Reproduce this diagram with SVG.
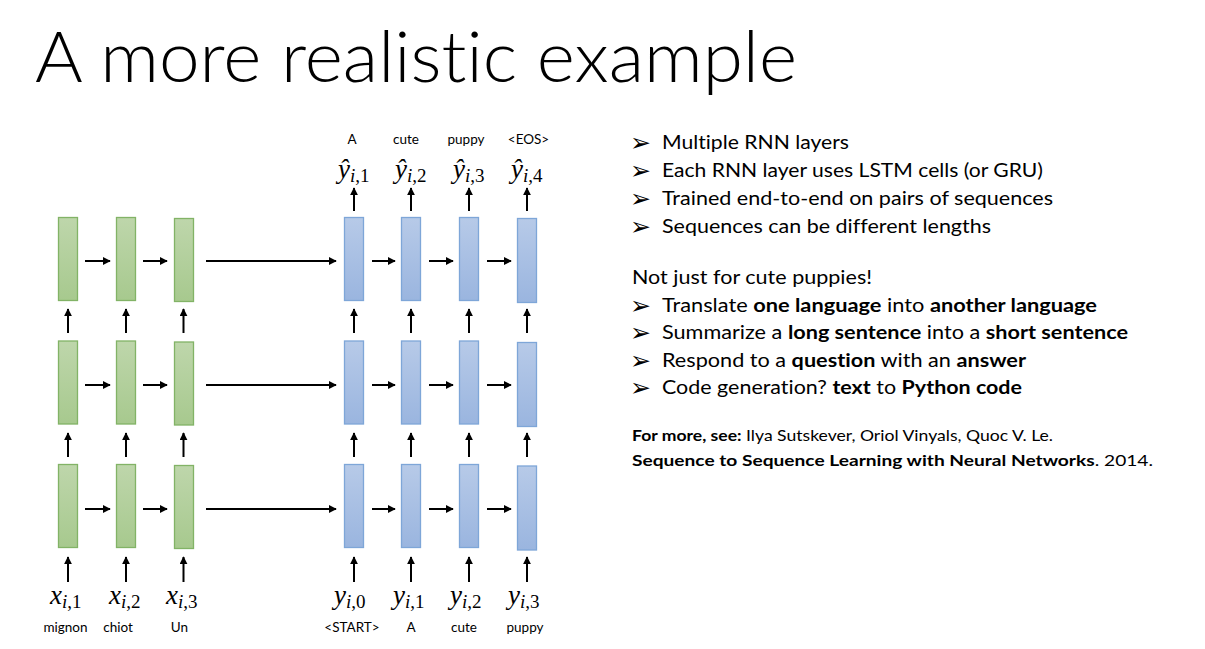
<svg xmlns="http://www.w3.org/2000/svg" width="1205" height="649" viewBox="0 0 1205 649">
<style>
text{font-variant-ligatures:none}
.g{fill:url(#gg);stroke:#82b366;stroke-width:1.3}
.b{fill:url(#bg);stroke:#7ea6d8;stroke-width:1.3}
#connectors line{stroke:#000;stroke-width:2;marker-end:url(#ah)}
.lbl{font-family:Lato,"Open Sans",sans-serif;font-size:13.5px;fill:#000;text-anchor:middle}
.m{font-family:"Liberation Serif","Times New Roman",serif;font-style:italic;font-size:27px;fill:#000}
.s{font-size:19px}
.r{font-style:normal}
.t{font-family:Lato,"Open Sans",sans-serif;font-size:18.5px;fill:#000}
.bu{font-family:"DejaVu Sans",sans-serif;font-size:25px;fill:#000}
.f{font-family:Lato,"Open Sans",sans-serif;font-size:16px;fill:#000}
.bd{font-weight:bold}
</style>
<defs>
<linearGradient id="gg" x1="0" y1="0" x2="0" y2="1"><stop offset="0" stop-color="#bed6ab"/><stop offset="1" stop-color="#a7c98e"/></linearGradient>
<linearGradient id="bg" x1="0" y1="0" x2="0" y2="1"><stop offset="0" stop-color="#b7cae8"/><stop offset="1" stop-color="#9ab5df"/></linearGradient>
<marker id="ah" viewBox="0 0 10 10" refX="9" refY="5" markerWidth="4" markerHeight="4" orient="auto" markerUnits="strokeWidth"><path d="M0,0 L10,5 L0,10 z" fill="#000"/></marker>
</defs>
<rect width="1205" height="649" fill="#fff"/>
<text x="35" y="82" font-family="Lato,'Open Sans',sans-serif" font-weight="300" font-size="70" textLength="762" lengthAdjust="spacingAndGlyphs">A more realistic example</text>

<g id="encoder">
<g id="e11"><rect class="g" x="58.5" y="217.5" width="19" height="83"/></g>
<g id="e12"><rect class="g" x="116.5" y="217.5" width="19" height="83"/></g>
<g id="e13"><rect class="g" x="174.5" y="218.5" width="19" height="83"/></g>
<g id="e21"><rect class="g" x="58.5" y="341" width="19" height="83"/></g>
<g id="e22"><rect class="g" x="116.5" y="341" width="19" height="83"/></g>
<g id="e23"><rect class="g" x="174.5" y="342" width="19" height="83"/></g>
<g id="e31"><rect class="g" x="58.5" y="464.5" width="19" height="83"/></g>
<g id="e32"><rect class="g" x="116.5" y="464.5" width="19" height="83"/></g>
<g id="e33"><rect class="g" x="174.5" y="465.5" width="19" height="83"/></g>
</g>
<g id="decoder">
<g id="d11"><rect class="b" x="344.5" y="217.5" width="19" height="83"/></g>
<g id="d12"><rect class="b" x="401.5" y="217.5" width="19" height="83"/></g>
<g id="d13"><rect class="b" x="459.5" y="217.5" width="19" height="83"/></g>
<g id="d14"><rect class="b" x="517.5" y="218.5" width="19" height="84"/></g>
<g id="d21"><rect class="b" x="344.5" y="341" width="19" height="83"/></g>
<g id="d22"><rect class="b" x="401.5" y="341" width="19" height="83"/></g>
<g id="d23"><rect class="b" x="459.5" y="341" width="19" height="83"/></g>
<g id="d24"><rect class="b" x="517.5" y="342.5" width="19" height="84"/></g>
<g id="d31"><rect class="b" x="344.5" y="464.5" width="19" height="83"/></g>
<g id="d32"><rect class="b" x="401.5" y="464.5" width="19" height="83"/></g>
<g id="d33"><rect class="b" x="459.5" y="464.5" width="19" height="83"/></g>
<g id="d34"><rect class="b" x="517.5" y="466" width="19" height="84"/></g>
</g>

<g id="connectors">
<line x1="85" y1="261" x2="110" y2="261"/><line x1="143" y1="261" x2="167" y2="261"/><line x1="206" y1="261" x2="336" y2="261"/><line x1="372" y1="261" x2="395" y2="261"/><line x1="429" y1="261" x2="453" y2="261"/><line x1="487" y1="261" x2="511" y2="261"/>
<line x1="85" y1="385" x2="110" y2="385"/><line x1="143" y1="385" x2="167" y2="385"/><line x1="206" y1="385" x2="336" y2="385"/><line x1="372" y1="385" x2="395" y2="385"/><line x1="429" y1="385" x2="453" y2="385"/><line x1="487" y1="385" x2="511" y2="385"/>
<line x1="85" y1="509" x2="110" y2="509"/><line x1="143" y1="509" x2="167" y2="509"/><line x1="206" y1="509" x2="336" y2="509"/><line x1="372" y1="509" x2="395" y2="509"/><line x1="429" y1="509" x2="453" y2="509"/><line x1="487" y1="509" x2="511" y2="509"/>
<line x1="68" y1="333" x2="68" y2="309"/><line x1="126" y1="333" x2="126" y2="309"/><line x1="183.5" y1="333" x2="183.5" y2="309"/><line x1="354" y1="333" x2="354" y2="309"/><line x1="411" y1="333" x2="411" y2="309"/><line x1="469" y1="333" x2="469" y2="309"/><line x1="527" y1="333" x2="527" y2="309"/>
<line x1="68" y1="457" x2="68" y2="433"/><line x1="126" y1="457" x2="126" y2="433"/><line x1="183.5" y1="457" x2="183.5" y2="433"/><line x1="354" y1="457" x2="354" y2="433"/><line x1="411" y1="457" x2="411" y2="433"/><line x1="469" y1="457" x2="469" y2="433"/><line x1="527" y1="457" x2="527" y2="433"/>
<line x1="68" y1="582" x2="68" y2="557"/><line x1="126" y1="582" x2="126" y2="557"/><line x1="183.5" y1="582" x2="183.5" y2="557"/><line x1="354" y1="582" x2="354" y2="557"/><line x1="411" y1="582" x2="411" y2="557"/><line x1="469" y1="582" x2="469" y2="557"/><line x1="527" y1="582" x2="527" y2="557"/>
<line x1="354" y1="211" x2="354" y2="188"/><line x1="411" y1="211" x2="411" y2="188"/><line x1="469" y1="211" x2="469" y2="188"/><line x1="527" y1="211" x2="527" y2="188"/>
</g>

<g id="labels">
<text class="lbl" x="352" y="143.5">A</text>
<text class="lbl" x="406" y="143.5">cute</text>
<text class="lbl" x="466" y="143.5">puppy</text>
<text class="lbl" x="528.5" y="143.5">&lt;EOS&gt;</text>
<text class="m" x="338" y="178">ŷ<tspan class="s" dy="4">i<tspan class="r">,1</tspan></tspan></text>
<text class="m" x="395" y="178">ŷ<tspan class="s" dy="4">i<tspan class="r">,2</tspan></tspan></text>
<text class="m" x="453" y="178">ŷ<tspan class="s" dy="4">i<tspan class="r">,3</tspan></tspan></text>
<text class="m" x="511" y="178">ŷ<tspan class="s" dy="4">i<tspan class="r">,4</tspan></tspan></text>
<text class="m" x="50" y="604">x<tspan class="s" dy="4">i<tspan class="r">,1</tspan></tspan></text>
<text class="m" x="109" y="604">x<tspan class="s" dy="4">i<tspan class="r">,2</tspan></tspan></text>
<text class="m" x="166" y="604">x<tspan class="s" dy="4">i<tspan class="r">,3</tspan></tspan></text>
<text class="m" x="334" y="604">y<tspan class="s" dy="4">i<tspan class="r">,0</tspan></tspan></text>
<text class="m" x="393" y="604">y<tspan class="s" dy="4">i<tspan class="r">,1</tspan></tspan></text>
<text class="m" x="450" y="604">y<tspan class="s" dy="4">i<tspan class="r">,2</tspan></tspan></text>
<text class="m" x="508" y="604">y<tspan class="s" dy="4">i<tspan class="r">,3</tspan></tspan></text>
<text class="lbl" x="65.5" y="631.5">mignon</text>
<text class="lbl" x="118" y="631.5">chiot</text>
<text class="lbl" x="179.5" y="631.5">Un</text>
<text class="lbl" x="352" y="631.5">&lt;START&gt;</text>
<text class="lbl" x="411" y="631.5">A</text>
<text class="lbl" x="464" y="631.5">cute</text>
<text class="lbl" x="525" y="631.5">puppy</text>
</g>

<g id="bullets">
<text class="bu" x="630" y="151">➢</text>
<text class="bu" x="630" y="179">➢</text>
<text class="bu" x="630" y="207">➢</text>
<text class="bu" x="630" y="235">➢</text>
<text class="bu" x="630" y="313.5">➢</text>
<text class="bu" x="630" y="341">➢</text>
<text class="bu" x="630" y="368.5">➢</text>
<text class="bu" x="630" y="396">➢</text>
<text class="t" x="662" y="149" textLength="187" lengthAdjust="spacingAndGlyphs">Multiple RNN layers</text>
<text class="t" x="662" y="177" textLength="381" lengthAdjust="spacingAndGlyphs">Each RNN layer uses LSTM cells (or GRU)</text>
<text class="t" x="662" y="205" textLength="391" lengthAdjust="spacingAndGlyphs">Trained end-to-end on pairs of sequences</text>
<text class="t" x="662" y="233" textLength="329" lengthAdjust="spacingAndGlyphs">Sequences can be different lengths</text>
<text class="t" x="632" y="284" textLength="240" lengthAdjust="spacingAndGlyphs">Not just for cute puppies!</text>
<text class="t" x="662" y="311.5" textLength="435" lengthAdjust="spacingAndGlyphs">Translate <tspan class="bd">one language</tspan> into <tspan class="bd">another language</tspan></text>
<text class="t" x="662" y="339" textLength="466" lengthAdjust="spacingAndGlyphs">Summarize a <tspan class="bd">long sentence</tspan> into a <tspan class="bd">short sentence</tspan></text>
<text class="t" x="662" y="366.5" textLength="364" lengthAdjust="spacingAndGlyphs">Respond to a <tspan class="bd">question</tspan> with an <tspan class="bd">answer</tspan></text>
<text class="t" x="662" y="394" textLength="360" lengthAdjust="spacingAndGlyphs">Code generation? <tspan class="bd">text</tspan> to <tspan class="bd">Python code</tspan></text>
<text class="f" x="632" y="441" textLength="421" lengthAdjust="spacingAndGlyphs"><tspan class="bd">For more, see:</tspan> Ilya Sutskever, Oriol Vinyals, Quoc V. Le.</text>
<text class="f" x="632" y="466" textLength="521" lengthAdjust="spacingAndGlyphs"><tspan class="bd">Sequence to Sequence Learning with Neural Networks</tspan>. 2014.</text>
</g>
</svg>
